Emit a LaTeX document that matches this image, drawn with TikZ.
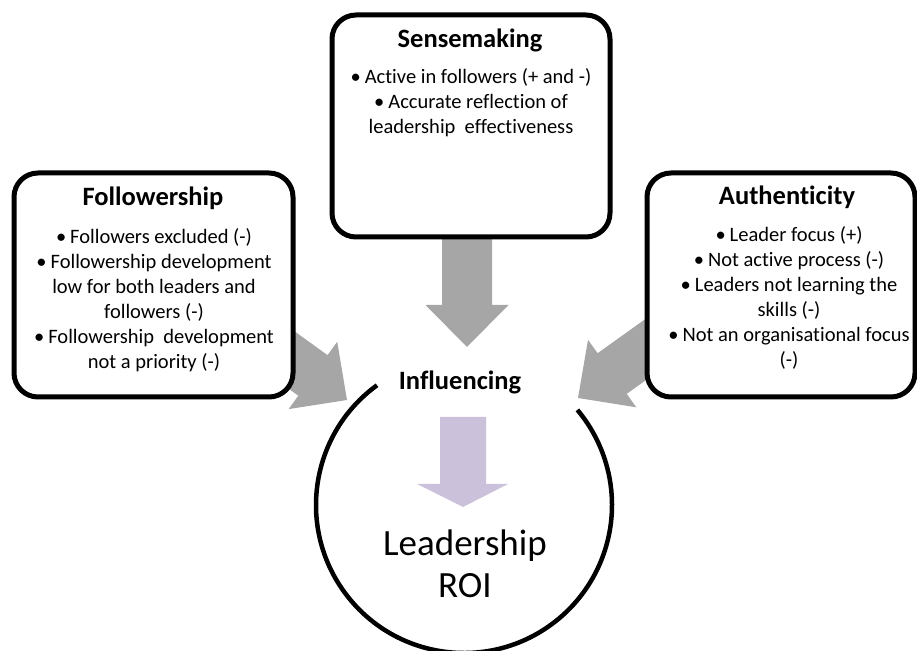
\documentclass[tikz,border=0pt]{standalone}
\usepackage{fontspec}
\setmainfont{Carlito}[Ligatures=NoCommon]
\definecolor{arrowgray}{RGB}{166,166,166}
\definecolor{lavender}{RGB}{204,193,218}
\tikzset{
  panel/.style={draw=black, line width=5pt, fill=white, rounded corners=24pt},
  headtext/.style={font=\fontsize{26.5}{30}\selectfont\bfseries},
  bodytext/.style={font=\fontsize{20.5}{25}\selectfont, align=center, inner sep=0pt},
  bigtext/.style={font=\fontsize{37}{42}\selectfont, align=center, inner sep=0pt},
}
\newcommand{\fatarrow}[1]{%
  \fill[#1] (-120,25) -- (-42,25) -- (-42,41.5) -- (0,0) -- (-42,-41.5) -- (-42,-25) -- (-120,-25) -- cycle;}
\newcommand{\bul}{•\hspace{4pt}}
\begin{document}
\begin{tikzpicture}[x=1pt,y=1pt]
\useasboundingbox (0,0) rectangle (917,650);
% gray arrows (behind panels)
\begin{scope}[shift={(467,303)}, rotate=-90]
  \fatarrow{arrowgray}
\end{scope}
\begin{scope}[shift={(347,250)}, rotate=-35.8]
  \fatarrow{arrowgray}
\end{scope}
\begin{scope}[shift={(578,252)}, rotate=215.6]
  \fatarrow{arrowgray}
\end{scope}
% panels
\node[panel, minimum width=278pt, minimum height=222pt] (sense) at (471,524) {};
\node[panel, minimum width=279pt, minimum height=224pt] (follow) at (153.5,365) {};
\node[panel, minimum width=268pt, minimum height=224pt] (auth) at (781,365) {};
% panel texts
\node[headtext] (senseh) at (470,610) {Sensemaking};
\node[bodytext] (senseb) at (471,547) {\bul Active in followers (+ and -)\\\bul Accurate reflection of\\leadership\ \ effectiveness};
\node[headtext] (followh) at (153,452) {Followership};
\node[bodytext] (followb) at (154,349.5) {\bul Followers excluded (-)\\\bul Followership development\\low for both leaders and\\followers (-)\\\bul Followership\ \ development\\not a priority (-)};
\node[headtext] (authh) at (787,453) {Authenticity};
\node[bodytext] (authb) at (789,352.5) {\bul Leader focus (+)\\\bul Not active process (-)\\\bul Leaders not learning the\\skills (-)\\\bul Not an organisational focus\\(-)};
% circle
\coordinate (c) at (464,145);
\draw[line width=4.5pt] ([shift={(126:148)}]c) arc[start angle=126, end angle=400, radius=148];
\node[headtext] (infl) at (460,268) {Influencing};
% purple arrow
\fill[lavender] (440,233) -- (486,233) -- (486,166) -- (508,166) -- (463,143) -- (417,166) -- (440,166) -- cycle;
\node[bigtext] (roi) at (465,86) {Leadership\\ROI};
\end{tikzpicture}
\end{document}
